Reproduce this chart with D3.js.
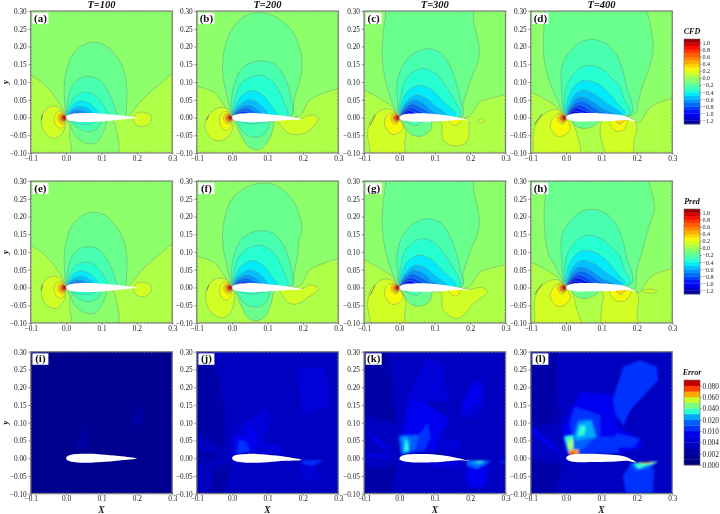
<!DOCTYPE html>
<html>
<head>
<meta charset="utf-8">
<script src="https://cdnjs.cloudflare.com/ajax/libs/d3/7.8.5/d3.min.js"></script>
<style>
  html, body { margin: 0; padding: 0; background: #fff; }
  svg { display: block; font-family: "Liberation Serif", serif; filter: blur(0.3px); }
</style>
</head>
<body>
<script>
const width = 720;
const height = 514;

const xTicks = [-0.1, 0, 0.1, 0.2, 0.3];
const yTicks = [-0.1, -0.05, 0, 0.05, 0.1, 0.15, 0.2, 0.25, 0.3];
const titles = ["T=100", "T=200", "T=300", "T=400"];
const letters = ["a", "b", "c", "d", "e", "f", "g", "h", "i", "j", "k", "l"];

const cpTicks = [1, 0.8, 0.6, 0.4, 0.2, 0, -0.2, -0.4, -0.6, -0.8, -1, -1.2];
const cpBands = d3.range(-13, 11).map((d) => d / 10);
const errorLevels = [0, 0.001, 0.002, 0.003, 0.004, 0.007, 0.01, 0.015, 0.02, 0.03, 0.04, 0.05, 0.06, 0.07, 0.08, 0.09];
const errorTicks = [0, 0.002, 0.004, 0.01, 0.02, 0.04, 0.06, 0.08];
const errorColors = ["#000078", "#000090", "#0000a8", "#0000c0", "#0000d8", "#0000f0", "#0030ff", "#0060ff", "#00a8ff", "#30ffd0", "#7cff80", "#c8ff30", "#ffaa00", "#ff4000", "#c00000"];

// airfoil outlines for T=100..400, nose -> upper -> tail -> lower
const foil100 = [[0, 0], [0.004, 0.006], [0.015, 0.01], [0.04, 0.0125], [0.07, 0.0125], [0.1, 0.0105], [0.15, 0.006], [0.2, -0.001], [0.15, -0.0065], [0.1, -0.011], [0.07, -0.0125], [0.04, -0.0125], [0.015, -0.01], [0.004, -0.006]];
const foil200 = [[0, 0], [0.004, 0.006], [0.015, 0.0095], [0.04, 0.012], [0.07, 0.012], [0.1, 0.0095], [0.15, 0.004], [0.197, -0.005], [0.15, -0.0075], [0.1, -0.0115], [0.07, -0.013], [0.04, -0.0125], [0.015, -0.01], [0.004, -0.006]];
const foil300 = [[0, -0.002], [0.004, 0.005], [0.015, 0.009], [0.04, 0.0115], [0.08, 0.0115], [0.12, 0.008], [0.16, 0.0015], [0.198, -0.008], [0.17, -0.006], [0.115, -0.0105], [0.07, -0.012], [0.04, -0.012], [0.015, -0.0095], [0.004, -0.006]];
const foil400 = [[0, -0.001], [0.004, 0.006], [0.015, 0.01], [0.04, 0.0125], [0.08, 0.0125], [0.13, 0.0095], [0.165, 0.0045], [0.198, -0.012], [0.17, -0.007], [0.13, -0.01], [0.07, -0.0105], [0.04, -0.0115], [0.015, -0.009], [0.004, -0.005]];

// innermost loops at the leading edge, lower bound of the band first
const noseCore = [
  [0.3, [[-0.001, 0.002], [-0.01, 0.013], [-0.02, 0.009], [-0.024, -0.003], [-0.019, -0.014], [-0.008, -0.018], [0, -0.008]]],
  [0.5, [[-0.001, 0.002], [-0.008, 0.01], [-0.016, 0.005], [-0.018, -0.003], [-0.013, -0.011], [-0.004, -0.011], [0, -0.005]]],
  [0.7, [[-0.001, 0.002], [-0.006, 0.007], [-0.012, 0.004], [-0.013, -0.003], [-0.008, -0.008], [-0.002, -0.007], [0, -0.003]]],
  [0.9, [[-0.001, 0.002], [-0.005, 0.005], [-0.009, 0.002], [-0.009, -0.003], [-0.005, -0.006], [-0.001, -0.004]]],
];

const suction100 = [
  [-0.2, [[0, 0], [-0.004, 0.04], [-0.005, 0.095], [0.003, 0.14], [0.02, 0.18], [0.05, 0.205], [0.08, 0.212], [0.11, 0.203], [0.14, 0.175], [0.162, 0.135], [0.171, 0.09], [0.171, 0.04], [0.165, 0], [0.12, -0.002], [0.113, -0.02], [0.103, -0.045], [0.085, -0.07], [0.065, -0.074], [0.05, -0.07], [0.025, -0.05], [0.01, -0.02]]],
  [-0.3, [[0.001, 0.005], [0.005, 0.05], [0.018, 0.09], [0.04, 0.11], [0.068, 0.115], [0.095, 0.105], [0.115, 0.08], [0.13, 0.05], [0.14, 0.02], [0.145, 0.003], [0.1, -0.012], [0.09, -0.03], [0.065, -0.04], [0.035, -0.03], [0.012, -0.012]]],
  [-0.4, [[0.001, 0.003], [0.012, 0.04], [0.03, 0.063], [0.06, 0.072], [0.085, 0.06], [0.105, 0.035], [0.118, 0.005], [0.085, -0.012], [0.06, -0.02], [0.03, -0.017], [0.01, -0.007]]],
  [-0.5, [[0.002, 0.004], [0.015, 0.032], [0.04, 0.047], [0.065, 0.04], [0.085, 0.022], [0.097, 0.006], [0.06, -0.003], [0.03, -0.003]]],
  [-0.6, [[0.003, 0.003], [0.017, 0.023], [0.04, 0.032], [0.06, 0.026], [0.08, 0.008], [0.05, 0]]],
  [-0.7, [[0.003, 0.003], [0.015, 0.017], [0.035, 0.022], [0.052, 0.017], [0.066, 0.008], [0.04, 0]]],
  [-0.8, [[0.003, 0.003], [0.014, 0.012], [0.03, 0.016], [0.042, 0.013], [0.05, 0.008], [0.03, 0]]],
];

const suction200 = [
  [-0.2, [[0, 0], [-0.012, 0.05], [-0.025, 0.11], [-0.027, 0.15], [-0.02, 0.2], [0, 0.25], [0.035, 0.285], [0.078, 0.296], [0.12, 0.285], [0.165, 0.25], [0.19, 0.2], [0.198, 0.15], [0.19, 0.1], [0.175, 0.05], [0.168, 0.003], [0.12, -0.01], [0.115, -0.035], [0.1, -0.07], [0.078, -0.09], [0.05, -0.085], [0.025, -0.05], [0.01, -0.015]]],
  [-0.3, [[0.001, 0.003], [-0.002, 0.04], [0.005, 0.09], [0.03, 0.14], [0.078, 0.16], [0.12, 0.15], [0.15, 0.11], [0.165, 0.06], [0.17, 0.01], [0.11, -0.01], [0.1, -0.035], [0.085, -0.052], [0.06, -0.055], [0.035, -0.045], [0.012, -0.012]]],
  [-0.4, [[0.002, 0.003], [0.008, 0.05], [0.025, 0.095], [0.073, 0.119], [0.11, 0.105], [0.135, 0.07], [0.15, 0.035], [0.157, 0.005], [0.08, -0.015], [0.05, -0.018], [0.02, -0.012]]],
  [-0.5, [[0.002, 0.003], [0.013, 0.04], [0.03, 0.065], [0.06, 0.076], [0.09, 0.06], [0.11, 0.035], [0.127, 0.005], [0.06, -0.003]]],
  [-0.6, [[0.002, 0.003], [0.015, 0.03], [0.05, 0.05], [0.075, 0.04], [0.1, 0.008], [0.05, 0]]],
  [-0.7, [[0.003, 0.003], [0.016, 0.024], [0.045, 0.035], [0.065, 0.027], [0.085, 0.008], [0.04, 0]]],
  [-0.8, [[0.003, 0.003], [0.015, 0.019], [0.04, 0.027], [0.055, 0.021], [0.07, 0.008], [0.03, 0]]],
  [-0.9, [[0.003, 0.003], [0.013, 0.013], [0.035, 0.018], [0.047, 0.014], [0.055, 0.008], [0.03, 0]]],
  [-1, [[0.003, 0.003], [0.012, 0.009], [0.025, 0.012], [0.035, 0.01], [0.04, 0.007], [0.02, 0]]],
];

const suction300 = [
  [-0.2, [[0, 0], [-0.02, 0.04], [-0.036, 0.09], [-0.047, 0.15], [-0.048, 0.21], [-0.04, 0.28], [-0.03, 0.32], [0.2, 0.32], [0.21, 0.27], [0.226, 0.19], [0.22, 0.15], [0.205, 0.115], [0.19, 0.07], [0.18, 0.04], [0.175, 0], [0.095, -0.008], [0.088, -0.035], [0.06, -0.053], [0.03, -0.045], [0.01, -0.015]]],
  [-0.3, [[0.001, 0.002], [-0.006, 0.05], [-0.006, 0.1], [0.012, 0.15], [0.04, 0.18], [0.077, 0.194], [0.115, 0.183], [0.14, 0.15], [0.16, 0.1], [0.172, 0.05], [0.178, 0.005], [0.07, -0.01], [0.05, -0.022], [0.03, -0.018], [0.012, -0.008]]],
  [-0.4, [[0.002, 0.002], [0.004, 0.06], [0.02, 0.11], [0.063, 0.138], [0.1, 0.125], [0.13, 0.09], [0.152, 0.055], [0.172, 0.005], [0.06, -0.005]]],
  [-0.5, [[0.002, 0.002], [0.01, 0.05], [0.03, 0.08], [0.058, 0.091], [0.09, 0.08], [0.12, 0.05], [0.16, 0.006], [0.06, 0]]],
  [-0.6, [[0.002, 0.002], [0.013, 0.035], [0.044, 0.063], [0.075, 0.055], [0.105, 0.03], [0.134, 0.006], [0.06, 0]]],
  [-0.7, [[0.003, 0.003], [0.014, 0.03], [0.04, 0.049], [0.065, 0.042], [0.09, 0.02], [0.11, 0.007], [0.05, 0]]],
  [-0.8, [[0.003, 0.003], [0.014, 0.024], [0.035, 0.038], [0.055, 0.032], [0.09, 0.007], [0.05, 0]]],
  [-0.9, [[0.003, 0.003], [0.012, 0.018], [0.033, 0.028], [0.05, 0.022], [0.075, 0.007], [0.04, 0]]],
  [-1, [[0.003, 0.003], [0.012, 0.014], [0.028, 0.02], [0.042, 0.015], [0.055, 0.007], [0.03, 0]]],
  [-1.1, [[0.003, 0.003], [0.01, 0.009], [0.02, 0.012], [0.03, 0.01], [0.035, 0.007], [0.02, 0]]],
];

const suction400 = [
  [-0.2, [[0, 0], [-0.025, 0.05], [-0.045, 0.096], [-0.06, 0.15], [-0.064, 0.19], [-0.063, 0.25], [-0.06, 0.3], [-0.055, 0.32], [0.22, 0.32], [0.228, 0.3], [0.24, 0.25], [0.246, 0.19], [0.235, 0.14], [0.218, 0.096], [0.205, 0.05], [0.195, 0.011], [0.09, -0.006], [0.087, -0.017], [0.054, -0.031], [0.03, -0.025], [0.012, -0.01]]],
  [-0.3, [[0.001, 0.002], [-0.01, 0.04], [-0.012, 0.068], [-0.012, 0.143], [0.01, 0.185], [0.04, 0.212], [0.072, 0.22], [0.11, 0.21], [0.14, 0.18], [0.157, 0.143], [0.17, 0.09], [0.185, 0.011], [0.06, -0.003]]],
  [-0.4, [[0.002, 0.002], [-0.003, 0.068], [0.012, 0.11], [0.04, 0.14], [0.068, 0.147], [0.105, 0.135], [0.13, 0.11], [0.147, 0.096], [0.165, 0.05], [0.18, 0.011], [0.06, 0]]],
  [-0.5, [[0.002, 0.002], [0.007, 0.06], [0.03, 0.095], [0.054, 0.105], [0.09, 0.095], [0.12, 0.07], [0.145, 0.04], [0.166, 0.011], [0.06, 0]]],
  [-0.6, [[0.002, 0.002], [0.012, 0.045], [0.03, 0.07], [0.049, 0.077], [0.08, 0.066], [0.115, 0.04], [0.157, 0.01], [0.06, 0]]],
  [-0.7, [[0.003, 0.003], [0.014, 0.036], [0.03, 0.054], [0.044, 0.058], [0.07, 0.048], [0.1, 0.027], [0.135, 0.009], [0.06, 0]]],
  [-0.8, [[0.003, 0.003], [0.015, 0.03], [0.04, 0.046], [0.065, 0.038], [0.09, 0.02], [0.115, 0.009], [0.05, 0]]],
  [-0.9, [[0.003, 0.003], [0.014, 0.024], [0.036, 0.036], [0.055, 0.029], [0.075, 0.016], [0.095, 0.009], [0.05, 0]]],
  [-1, [[0.003, 0.003], [0.013, 0.018], [0.032, 0.027], [0.048, 0.021], [0.075, 0.009], [0.04, 0]]],
  [-1.1, [[0.003, 0.003], [0.011, 0.013], [0.025, 0.018], [0.04, 0.014], [0.055, 0.009], [0.03, 0]]],
  [-1.2, [[0.003, 0.003], [0.009, 0.008], [0.018, 0.011], [0.028, 0.01], [0.038, 0.008], [0.02, 0.002]]],
];

const farField100 = [
  [0, [[-0.12, 0.13], [-0.1, 0.12], [-0.07, 0.1], [-0.04, 0.07], [-0.015, 0.035], [0, 0.005], [0.01, -0.01], [0.01, -0.05], [0.01, -0.12], [-0.12, -0.12]]],
  [0, [[0.15, -0.12], [0.15, -0.08], [0.145, -0.05], [0.138, -0.02], [0.13, 0], [0.17, -0.002], [0.178, 0.005], [0.19, 0.02], [0.22, 0.055], [0.26, 0.09], [0.32, 0.13], [0.32, -0.12]]],
];
const lobes100 = [
  [0.1, [[0.19, 0], [0.2, 0.012], [0.22, 0.015], [0.237, 0.008], [0.242, -0.002], [0.235, -0.018], [0.215, -0.026], [0.197, -0.02], [0.19, -0.008]]],
  [0.1, [[-0.004, 0.005], [-0.015, 0.024], [-0.03, 0.032], [-0.05, 0.028], [-0.066, 0.01], [-0.07, -0.012], [-0.065, -0.035], [-0.05, -0.053], [-0.032, -0.059], [-0.015, -0.05], [-0.004, -0.03], [-0.001, -0.01]]],
  [0.2, [[-0.002, 0.004], [-0.012, 0.017], [-0.024, 0.016], [-0.033, 0.002], [-0.033, -0.012], [-0.024, -0.027], [-0.012, -0.03], [-0.003, -0.015]]],
];

const farField200 = [
  [0, [[-0.12, 0.095], [-0.1, 0.088], [-0.05, 0.07], [-0.02, 0.03], [0, 0.005], [0.08, -0.01], [0.19, 0.005], [0.2, 0.015], [0.218, 0.048], [0.25, 0.065], [0.3, 0.082], [0.32, 0.088], [0.32, -0.12], [-0.12, -0.12]]],
];
const lobes200 = [
  [0.1, [[0.125, -0.002], [0.14, -0.025], [0.155, -0.042], [0.19, -0.048], [0.22, -0.035], [0.24, -0.012], [0.243, 0], [0.228, 0.007], [0.21, 0.004], [0.2, -0.002], [0.165, 0]]],
  [0.1, [[-0.003, 0.004], [-0.015, 0.024], [-0.035, 0.028], [-0.06, 0.014], [-0.075, -0.01], [-0.075, -0.035], [-0.055, -0.062], [-0.03, -0.065], [-0.008, -0.05], [0.003, -0.026], [0.002, -0.01]]],
  [0.2, [[-0.002, 0.004], [-0.012, 0.016], [-0.025, 0.015], [-0.035, 0], [-0.034, -0.018], [-0.024, -0.034], [-0.01, -0.034], [-0.002, -0.015]]],
];

const farField300 = [
  [0, [[-0.12, 0.09], [-0.1, 0.079], [-0.054, 0.053], [-0.02, 0.03], [0, 0.003], [0.1, -0.012], [0.19, 0], [0.204, 0.011], [0.228, 0.044], [0.26, 0.055], [0.3, 0.065], [0.32, 0.07], [0.32, -0.12], [-0.12, -0.12]]],
];
const lobes300 = [
  [0.1, [[0.11, -0.005], [0.119, -0.017], [0.124, -0.064], [0.157, -0.081], [0.19, -0.069], [0.197, -0.026], [0.192, -0.005], [0.15, 0]]],
  [0.1, [[0.22, -0.009], [0.23, -0.003], [0.242, -0.008], [0.232, -0.015]]],
  [0.2, [[0.138, -0.003], [0.15, -0.02], [0.165, -0.02], [0.172, -0.004], [0.155, 0]]],
  [0.1, [[-0.003, 0.003], [-0.02, 0.02], [-0.04, 0.024], [-0.065, 0.012], [-0.082, -0.01], [-0.09, -0.045], [-0.085, -0.08], [-0.075, -0.12], [0.01, -0.12], [0.015, -0.07], [0.018, -0.04], [0.008, -0.015]]],
  [0.2, [[-0.002, 0.003], [-0.018, 0.012], [-0.034, 0.006], [-0.042, -0.01], [-0.035, -0.035], [-0.018, -0.048], [0, -0.042], [0.01, -0.03], [0.005, -0.012]]],
];

const farField400 = [
  [0, [[-0.12, 0.08], [-0.1, 0.072], [-0.055, 0.049], [-0.02, 0.025], [0, 0.003], [0.1, -0.012], [0.2, -0.012], [0.209, -0.014], [0.218, 0.002], [0.246, 0.035], [0.3, 0.054], [0.32, 0.06], [0.32, -0.12], [-0.12, -0.12]]],
];
const lobes400 = [
  [0.1, [[-0.003, 0.003], [-0.025, 0.022], [-0.055, 0.015], [-0.08, -0.01], [-0.092, -0.04], [-0.092, -0.08], [-0.09, -0.12], [0.045, -0.12], [0.041, -0.1], [0.04, -0.083], [0.016, -0.012]]],
  [0.1, [[0.105, -0.006], [0.096, -0.045], [0.11, -0.1], [0.11, -0.12], [0.185, -0.12], [0.192, -0.064], [0.2, -0.03], [0.19, -0.005], [0.15, 0]]],
  [0.2, [[0.124, -0.007], [0.13, -0.03], [0.147, -0.04], [0.165, -0.032], [0.172, -0.007], [0.15, 0]]],
  [0.3, [[0.14, -0.006], [0.15, -0.019], [0.165, -0.008], [0.15, 0]]],
  [0.2, [[-0.002, 0.003], [-0.02, 0.012], [-0.035, 0], [-0.045, -0.02], [-0.035, -0.045], [-0.02, -0.054], [-0.002, -0.048], [0.012, -0.03], [0.006, -0.012]]],
];

// predicted fields differ from the CFD ones mostly in the outer loops
const upperPred200 = [-0.2, [[0, 0], [-0.012, 0.05], [-0.025, 0.11], [-0.027, 0.15], [-0.02, 0.2], [0, 0.25], [0.04, 0.282], [0.091, 0.294], [0.13, 0.285], [0.165, 0.255], [0.19, 0.205], [0.197, 0.157], [0.19, 0.14], [0.185, 0.09], [0.175, 0.04], [0.17, 0.003], [0.12, -0.01], [0.112, -0.04], [0.095, -0.08], [0.068, -0.094], [0.045, -0.085], [0.025, -0.05], [0.01, -0.015]]];
const lobesPred200 = [
  [0.1, [[0.128, -0.002], [0.138, -0.015], [0.155, -0.04], [0.18, -0.047], [0.218, -0.026], [0.244, -0.003], [0.23, 0.006], [0.218, 0.007], [0.2, -0.002], [0.165, 0]]],
  [0.1, [[-0.003, 0.004], [-0.015, 0.022], [-0.045, 0.025], [-0.065, 0.008], [-0.075, -0.026], [-0.06, -0.07], [-0.026, -0.085], [-0.005, -0.07], [0.007, -0.03], [0.003, -0.01]]],
  lobes200[2],
];
const lobesPred300 = [
  [0.1, [[0.11, -0.005], [0.119, -0.017], [0.124, -0.064], [0.162, -0.088], [0.19, -0.07], [0.204, -0.05], [0.23, -0.03], [0.25, -0.012], [0.23, 0], [0.2, -0.005], [0.15, 0]]],
  [0.2, [[0.138, -0.003], [0.15, -0.022], [0.165, -0.022], [0.172, -0.004], [0.155, 0]]],
  lobes300[3],
  lobes300[4],
];
const upperPred400 = [-0.2, [[0, 0], [-0.025, 0.05], [-0.05, 0.096], [-0.06, 0.15], [-0.062, 0.208], [-0.058, 0.27], [-0.053, 0.32], [0.22, 0.32], [0.232, 0.3], [0.25, 0.218], [0.24, 0.19], [0.213, 0.096], [0.2, 0.05], [0.19, -0.008], [0.09, -0.006], [0.087, -0.017], [0.054, -0.031], [0.03, -0.025], [0.012, -0.01]]];
const lobesPred400 = [
  [0.1, [[-0.003, 0.003], [-0.025, 0.022], [-0.055, 0.015], [-0.08, -0.01], [-0.09, -0.045], [-0.088, -0.08], [-0.085, -0.12], [0.05, -0.12], [0.044, -0.1], [0.03, -0.06], [0.016, -0.012]]],
  [0.1, [[0.105, -0.006], [0.105, -0.03], [0.1, -0.06], [0.105, -0.12], [0.2, -0.12], [0.2, -0.07], [0.205, -0.03], [0.19, -0.005], [0.15, 0]]],
  [0.1, [[0.215, -0.009], [0.24, -0.005], [0.257, -0.01], [0.245, -0.016], [0.225, -0.014]]],
  [0.2, [[0.124, -0.007], [0.13, -0.028], [0.152, -0.04], [0.175, -0.03], [0.182, -0.007], [0.15, 0]]],
  [0.3, [[0.14, -0.006], [0.152, -0.019], [0.168, -0.008], [0.15, 0]]],
  lobes400[4],
];

const streak100 = [[-0.067, 0.008], [-0.07, -0.008]];
const streak200 = [[-0.066, 0.006], [-0.072, -0.008]];
const streak300 = [[-0.068, 0.007], [-0.083, -0.022]];
const streak400 = [[-0.068, 0.01], [-0.09, -0.02]];

// error facets, straight edged, first value is the error level
const error100 = [
  [0.0015, [[0, 0.06], [0.04, 0.09], [0.065, 0.04], [0.03, 0.015], [0.005, 0.015]]],
  [0.0015, [[0.09, 0.1], [0.115, 0.14], [0.09, 0.16], [0.08, 0.12]]],
  [0.0015, [[0.18, 0.1], [0.2, 0.16], [0.23, 0.11], [0.19, 0.08]]],
  [0.0015, [[0.1, -0.02], [0.16, -0.02], [0.2, -0.05], [0.19, -0.09], [0.14, -0.05]]],
  [0.0015, [[0.03, -0.08], [0.09, -0.08], [0.08, -0.09], [0.03, -0.09]]],
  [0.0015, [[-0.1, 0.08], [-0.06, 0.05], [-0.02, 0.01], [-0.08, 0.07]]],
  [0.0025, [[0.03, 0.03], [0.05, 0.09], [0.065, 0.05], [0.05, 0.02]]],
  [0.0025, [[0.19, 0.11], [0.205, 0.15], [0.22, 0.11], [0.195, 0.09]]],
];
const error200 = [
  [0.0025, [[-0.1, 0.3], [-0.05, 0.3], [-0.02, 0.12], [-0.02, 0.02], [-0.1, 0.07]]],
  [0.0025, [[-0.1, 0.02], [-0.05, 0.015], [-0.02, 0.005], [-0.1, -0.02]]],
  [0.0025, [[-0.06, -0.1], [-0.02, -0.1], [0, -0.02], [-0.05, -0.02]]],
  [0.005, [[0.005, 0.06], [0.03, 0.1], [0.05, 0.11], [0.1, 0.15], [0.11, 0.1], [0.09, 0.05], [0.15, 0.03], [0.13, 0.01], [0.02, 0.012]]],
  [0.005, [[0.18, 0.25], [0.26, 0.26], [0.28, 0.15], [0.2, 0.12]]],
  [0.008, [[0, 0.063], [0.07, 0.063], [0.065, 0.02], [0.003, 0.012]]],
  [0.008, [[0.04, 0.06], [0.05, 0.11], [0.06, 0.085], [0.07, 0.06]]],
  [0.012, [[0.012, 0.012], [0.02, 0.05], [0.03, 0.05], [0.04, 0.045], [0.05, 0.02]]],
  [0.012, [[0.2, -0.005], [0.26, -0.006], [0.22, -0.025], [0.2, -0.015]]],
  [0.005, [[0.19, -0.015], [0.23, -0.02], [0.25, -0.06], [0.2, -0.06]]],
];
const error300 = [
  [0.0025, [[-0.1, 0.3], [-0.03, 0.3], [-0.01, 0.1], [-0.1, 0.12]]],
  [0.0025, [[-0.1, -0.1], [-0.02, -0.1], [-0.01, -0.02], [-0.1, -0.03]]],
  [0.0035, [[0.2, 0.25], [0.3, 0.3], [0.3, 0.15], [0.24, 0.12]]],
  [0.005, [[0.02, 0.16], [0.07, 0.28], [0.12, 0.27], [0.14, 0.16]]],
  [0.005, [[0.17, 0.12], [0.2, 0.22], [0.24, 0.22], [0.24, 0.15], [0.2, 0.11]]],
  [0.008, [[0.006, 0.06], [0.025, 0.163], [0.068, 0.16], [0.143, 0.108], [0.115, 0.06], [0.105, 0.022], [0.005, 0.013]]],
  [0.005, [[0.115, 0.05], [0.16, 0.055], [0.18, 0.03], [0.15, 0.02], [0.115, 0.02]]],
  [0.005, [[0.05, 0.01], [0.17, 0.005], [0.18, -0.03], [0.12, -0.03], [0.08, -0.02]]],
  [0.008, [[0.19, -0.015], [0.25, -0.02], [0.245, -0.08], [0.2, -0.085], [0.185, -0.05]]],
  [0.012, [[-0.002, 0.065], [0.058, 0.068], [0.08, 0.1], [0.087, 0.06], [0.07, 0.02], [0.005, 0.012]]],
  [0.008, [[0.176, 0.145], [0.205, 0.206], [0.233, 0.206], [0.228, 0.164], [0.19, 0.13]]],
  [0.008, [[-0.1, 0.08], [-0.06, 0.055], [-0.002, 0.005], [-0.06, 0.04]]],
  [0.008, [[-0.1, 0.012], [-0.04, 0.008], [-0.002, 0.002], [-0.04, 0.002], [-0.1, 0.004]]],
  [0.012, [[0.285, -0.008], [0.3, -0.01], [0.3, -0.015], [0.285, -0.013]]],
  [0.017, [[0.19, -0.005], [0.26, -0.007], [0.22, -0.03], [0.19, -0.02]]],
  [0.017, [[-0.002, 0.062], [0.055, 0.063], [0.045, 0.025], [0.016, 0.012], [0.004, 0.012]]],
  [0.025, [[0.008, 0.06], [0.02, 0.06], [0.03, 0.045], [0.026, 0.018], [0.012, 0.014]]],
  [0.035, [[0.014, 0.02], [0.018, 0.05], [0.022, 0.05], [0.026, 0.02]]],
  [0.025, [[0.2, -0.008], [0.25, -0.008], [0.22, -0.02]]],
  [0.045, [[0.215, -0.007], [0.24, -0.007], [0.225, -0.011]]],
];
const error400 = [
  [0.0025, [[-0.1, 0.3], [-0.03, 0.3], [-0.02, 0.1], [-0.1, 0.09]]],
  [0.0025, [[-0.1, -0.1], [-0.03, -0.1], [-0.01, -0.02], [-0.1, 0]]],
  [0.012, [[0.134, 0.173], [0.162, 0.258], [0.209, 0.276], [0.256, 0.258], [0.26, 0.22], [0.181, 0.135], [0.162, 0.09], [0.13, 0.14]]],
  [0.008, [[-0.012, 0.088], [0.04, 0.187], [0.13, 0.18], [0.145, 0.09], [0.2, 0.06], [0.22, 0.03], [0.15, 0.015], [0, 0.012]]],
  [0.012, [[0.18, -0.02], [0.25, -0.03], [0.245, -0.1], [0.17, -0.1], [0.16, -0.05]]],
  [0.008, [[-0.1, 0.09], [-0.05, 0.05], [-0.003, 0.005], [-0.05, 0.03], [-0.1, 0.075]]],
  [0.012, [[0.03, 0.01], [0.01, 0.1], [0.025, 0.145], [0.068, 0.131], [0.096, 0.121], [0.096, 0.06], [0.14, 0.06], [0.15, 0.015]]],
  [0.012, [[0.14, 0.07], [0.21, 0.055], [0.19, 0.03], [0.14, 0.03]]],
  [0.017, [[0.015, 0.02], [0.025, 0.075], [0.035, 0.11], [0.068, 0.109], [0.085, 0.06], [0.04, 0.02]]],
  [0.025, [[0.022, 0.055], [0.035, 0.1], [0.072, 0.107], [0.085, 0.06], [0.03, 0.05]]],
  [0.035, [[0.032, 0.062], [0.04, 0.092], [0.056, 0.09], [0.052, 0.066]]],
  [0.035, [[-0.005, 0.06], [0.02, 0.065], [0.021, 0.025], [0.007, 0.02]]],
  [0.055, [[0.005, 0.03], [0.012, 0.055], [0.018, 0.05], [0.018, 0.025]]],
  [0.065, [[0.007, 0.024], [0.035, 0.024], [0.035, 0.008], [0.01, 0.008]]],
  [0.075, [[0.015, 0.02], [0.025, 0.02], [0.025, 0.01], [0.015, 0.01]]],
  [0.017, [[0.18, -0.015], [0.26, -0.008], [0.235, -0.03], [0.195, -0.035]]],
  [0.035, [[0.19, -0.015], [0.26, -0.01], [0.23, -0.02], [0.205, -0.03]]],
  [0.055, [[0.2, -0.012], [0.26, -0.011], [0.23, -0.016]]],
  [0.085, [[0.21, -0.012], [0.24, -0.011], [0.225, -0.015]]],
];

const columnLeft = [30.7, 196.7, 364, 530.7];
const rowTop = [11, 181, 351.7];
const panelW = 141.6;
const panelH = 142;

const jet = d3
  .scaleLinear()
  .domain([0, 0.11, 0.125, 0.35, 0.375, 0.64, 0.66, 0.89, 0.91, 1])
  .range(["#000080", "#0000ff", "#0000ff", "#00e6ff", "#14ffe2", "#eeff08", "#ffec00", "#ff1700", "#f60000", "#800000"]);

// band with lower bound "low", the bar runs from -1.3 up to 1.1
const bandColor = (low) => jet((low + 0.05 + 1.3) / 2.4);
const errorColor = d3.scaleThreshold().domain(errorLevels.slice(1, -1)).range(errorColors);

const svg = d3.select("body").append("svg").attr("width", width).attr("height", height);
const defs = svg.append("defs");
defs.append("filter").attr("id", "soft").append("feGaussianBlur").attr("stdDeviation", 0.8);

const panels = [
  { fills: [...farField100, ...suction100, ...lobes100, ...noseCore], foil: foil100, streak: streak100 },
  { fills: [...farField200, ...suction200, ...lobes200, ...noseCore], foil: foil200, streak: streak200 },
  { fills: [...farField300, ...suction300, ...lobes300, ...noseCore], foil: foil300, streak: streak300 },
  { fills: [...farField400, ...suction400, ...lobes400, ...noseCore], foil: foil400, streak: streak400 },
  { fills: [...farField100, ...suction100, ...lobes100, ...noseCore], foil: foil100, streak: streak100 },
  { fills: [...farField200, upperPred200, ...suction200.slice(1), ...lobesPred200, ...noseCore], foil: foil200, streak: streak200 },
  { fills: [...farField300, ...suction300, ...lobesPred300, ...noseCore], foil: foil300, streak: streak300 },
  { fills: [...farField400, upperPred400, ...suction400.slice(1), ...lobesPred400, ...noseCore], foil: foil400, streak: streak400 },
  { error: error100, base: 0.0012, foil: foil100 },
  { error: error200, base: 0.003, foil: foil200 },
  { error: error300, base: 0.003, foil: foil300 },
  { error: error400, base: 0.003, foil: foil400 },
];

const minorX = d3.range(-10, 31).map((d) => d / 100);
const minorY = d3.range(-10, 31).map((d) => d / 100);

panels.forEach((panel, i) => {
  const col = i % 4;
  const row = Math.floor(i / 4);
  const left = columnLeft[col];
  const top = rowTop[row];

  const x = d3.scaleLinear().domain([-0.1, 0.3]).range([0, panelW]);
  const y = d3.scaleLinear().domain([-0.1, 0.3]).range([panelH, 0]);

  const g = svg.append("g").attr("transform", `translate(${left},${top})`);
  const clipId = `clip-${letters[i]}`;
  defs.append("clipPath").attr("id", clipId).append("rect").attr("width", panelW).attr("height", panelH);
  const plot = g.append("g").attr("clip-path", `url(#${clipId})`);

  const smooth = d3.line().x((d) => x(d[0])).y((d) => y(d[1])).curve(d3.curveCatmullRomClosed.alpha(0.5));
  const facet = d3.line().x((d) => x(d[0])).y((d) => y(d[1])).curve(d3.curveLinearClosed);

  if (panel.fills) {
    plot.append("rect").attr("width", panelW).attr("height", panelH).attr("fill", bandColor(-0.1));
    plot
      .selectAll("path.level")
      .data(panel.fills)
      .join("path")
      .attr("class", "level")
      .attr("d", (d) => smooth(d[1]))
      .attr("fill", (d) => bandColor(d[0]))
      .attr("stroke", "#6f9a80")
      .attr("stroke-width", 0.6)
      .attr("stroke-opacity", 0.8);
    plot
      .append("path")
      .attr("d", d3.line().x((d) => x(d[0])).y((d) => y(d[1]))(panel.streak))
      .attr("fill", "none")
      .attr("stroke", "#445")
      .attr("stroke-width", 0.6);
  } else {
    plot.append("rect").attr("width", panelW).attr("height", panelH).attr("fill", errorColor(panel.base));
    plot
      .append("g")
      .attr("filter", "url(#soft)")
      .selectAll("path")
      .data(panel.error)
      .join("path")
      .attr("d", (d) => facet(d[1]))
      .attr("fill", (d) => errorColor(d[0]));
  }

  plot.append("path").attr("d", smooth(panel.foil)).attr("fill", "#fff");

  // minor ticks run round the whole frame
  const minorAxes = [
    [d3.axisBottom(x).tickValues(minorX).tickSize(-1.5), `translate(0,${panelH})`],
    [d3.axisTop(x).tickValues(minorX).tickSize(-1.5), "translate(0,0)"],
    [d3.axisLeft(y).tickValues(minorY).tickSize(-1.5), "translate(0,0)"],
    [d3.axisRight(y).tickValues(minorY).tickSize(-1.5), `translate(${panelW},0)`],
  ];
  minorAxes.forEach(([axis, t]) => {
    const a = g.append("g").attr("transform", t).call(axis.tickFormat(""));
    a.select(".domain").remove();
    a.selectAll("line").attr("stroke", "#777").attr("stroke-width", 0.5);
  });

  g.append("rect")
    .attr("width", panelW)
    .attr("height", panelH)
    .attr("fill", "none")
    .attr("stroke", "#808080")
    .attr("stroke-width", 1.2);

  const xAxis = g
    .append("g")
    .attr("transform", `translate(0,${panelH})`)
    .call(d3.axisBottom(x).tickValues(xTicks).tickSize(2).tickPadding(0.5).tickFormat(d3.format(".1f")));
  const yAxis = g
    .append("g")
    .call(d3.axisLeft(y).tickValues(yTicks).tickSize(2.5).tickPadding(1.5).tickFormat(d3.format(".2f")));
  [xAxis, yAxis].forEach((a) => {
    a.select(".domain").remove();
    a.selectAll("line").attr("stroke", "#555").attr("stroke-width", 0.6);
    a.selectAll("text").attr("fill", "#222").style("font-size", "7.3px").style("font-family", "Liberation Serif");
  });

  g.append("rect").attr("x", 1.7).attr("y", 1.7).attr("width", 16).attr("height", 11.4).attr("fill", "#fff");
  g.append("text")
    .attr("x", 9.7)
    .attr("y", 10.8)
    .attr("text-anchor", "middle")
    .attr("font-size", 11)
    .attr("font-weight", "bold")
    .attr("fill", "#111")
    .text(`(${letters[i]})`);

  if (row === 0) {
    g.append("text")
      .attr("x", panelW / 2)
      .attr("y", -3)
      .attr("text-anchor", "middle")
      .attr("font-size", 10.5)
      .attr("font-weight", "bold")
      .attr("font-style", "italic")
      .attr("fill", "#111")
      .text(titles[col]);
  }
  if (col === 0) {
    g.append("text")
      .attr("transform", `translate(-22.7,${panelH / 2}) rotate(-90)`)
      .attr("text-anchor", "middle")
      .attr("font-size", 8.5)
      .attr("font-weight", "bold")
      .attr("font-style", "italic")
      .attr("fill", "#111")
      .text("y");
  }
  if (row === 2) {
    g.append("text")
      .attr("x", panelW / 2)
      .attr("y", panelH + 19)
      .attr("text-anchor", "middle")
      .attr("font-size", 9.5)
      .attr("font-weight", "bold")
      .attr("font-style", "italic")
      .attr("fill", "#111")
      .text("X");
  }
});

function cpBar(name, top) {
  const y = d3.scaleLinear().domain([-1.3, 1.1]).range([top + 85, top]);
  const g = svg.append("g");
  g.selectAll("rect")
    .data(cpBands)
    .join("rect")
    .attr("x", 684)
    .attr("y", (d) => y(d + 0.1))
    .attr("width", 16)
    .attr("height", (d) => y(d) - y(d + 0.1) + 0.3)
    .attr("fill", bandColor);
  finishBar(g, name, top, y, cpTicks, d3.format(".1f"), 684, 6.1);
}

function errorBar(name, top) {
  const idx = d3.scaleLinear().domain([0, 15]).range([top + 85, top]);
  const y = d3.scalePoint().domain(errorTicks).range([idx(0), idx(14)]);
  const g = svg.append("g");
  g.selectAll("rect")
    .data(errorColors)
    .join("rect")
    .attr("x", 684)
    .attr("y", (d, i) => idx(i + 1))
    .attr("width", 16)
    .attr("height", (d, i) => idx(i) - idx(i + 1) + 0.3)
    .attr("fill", (d) => d);
  finishBar(g, name, top, y, errorTicks, d3.format(".3f"), 684, 7.3);
}

function finishBar(g, name, top, scale, ticks, format, left, fontSize) {
  g.append("rect")
    .attr("x", left)
    .attr("y", top)
    .attr("width", 16)
    .attr("height", 85)
    .attr("fill", "none")
    .attr("stroke", "#666")
    .attr("stroke-width", 0.6);
  const axis = g
    .append("g")
    .attr("transform", `translate(${left + 16},0)`)
    .call(d3.axisRight(scale).tickValues(ticks).tickSize(1.5).tickPadding(1).tickFormat(format));
  axis.select(".domain").remove();
  axis.selectAll("line").attr("stroke", "#444").attr("stroke-width", 0.6);
  axis.selectAll("text").attr("fill", "#222").style("font-size", `${fontSize}px`).style("font-family", "Liberation Serif");
  g.append("text")
    .attr("x", left + 8)
    .attr("y", top - 5)
    .attr("text-anchor", "middle")
    .attr("font-size", 8)
    .attr("font-weight", "bold")
    .attr("font-style", "italic")
    .attr("fill", "#111")
    .text(name);
}

cpBar("CFD", 39);
cpBar("Pred", 209);
errorBar("Error", 380);
</script>
</body>
</html>
